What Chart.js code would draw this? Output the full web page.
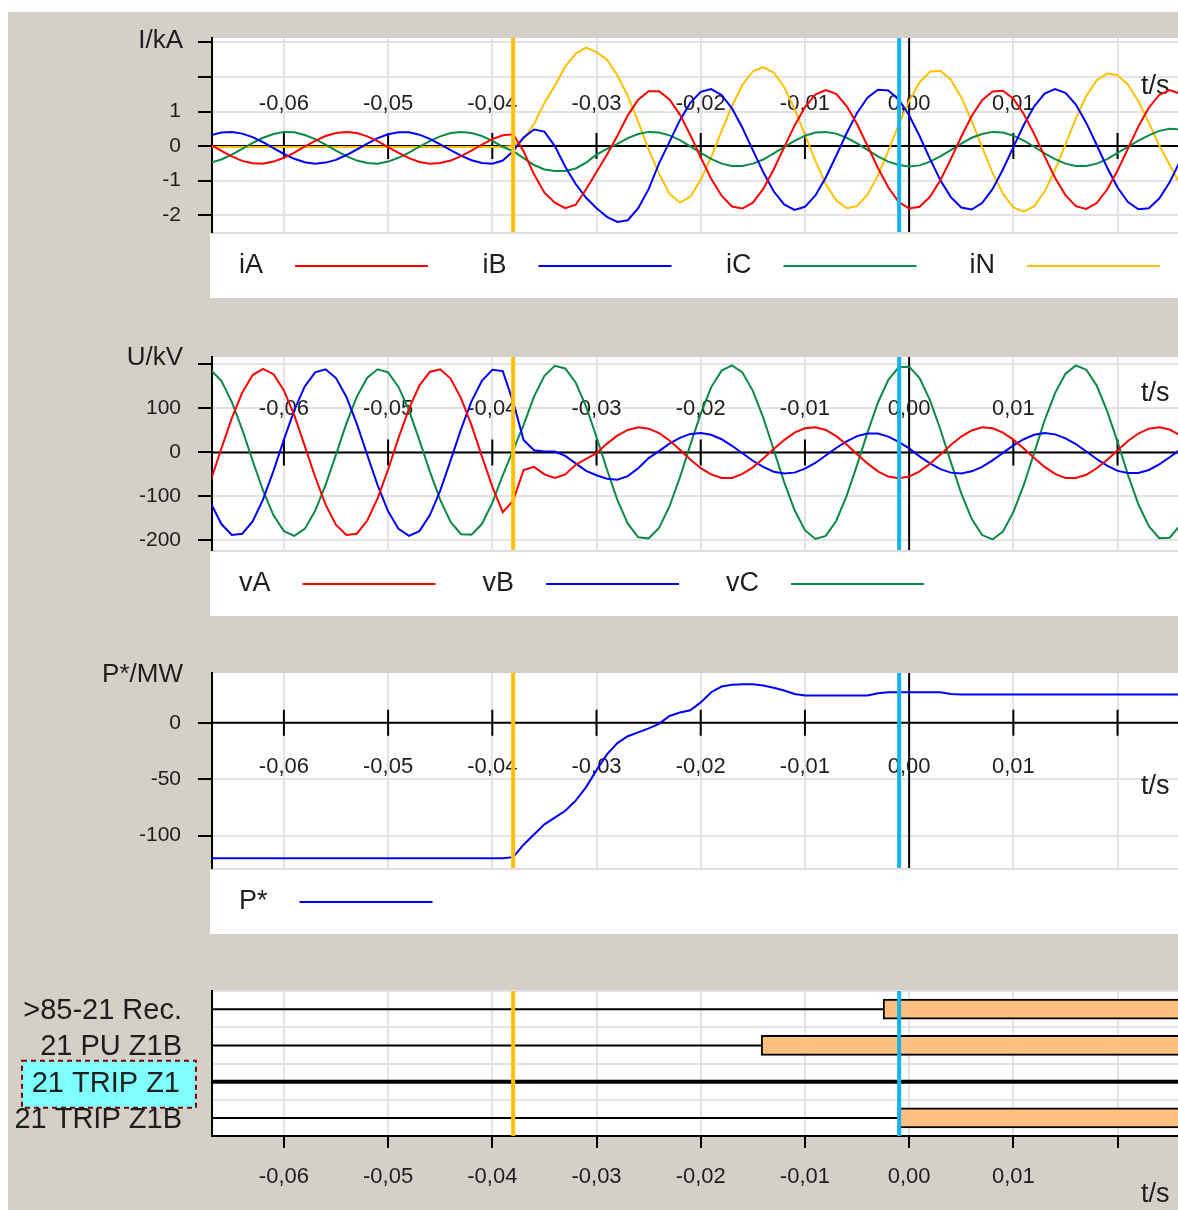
<!DOCTYPE html>
<html lang="en">
<head>
<meta charset="UTF-8">
<title>Fault record</title>
<style>
  body { margin: 0; background: #fff; overflow: hidden; }
  #frame { position: absolute; left: 8px; top: 12px; width: 1170px; height: 1198px; background: #d4d0c8; }
  canvas { position: absolute; left: 0; }
</style>
<script src="https://cdn.jsdelivr.net/npm/chart.js"></script>
</head>
<body>
<div id="frame"></div>
<canvas id="cur" width="1178" height="300" style="top:0px"></canvas>
<canvas id="volt" width="1178" height="320" style="top:300px"></canvas>
<canvas id="pow" width="1178" height="320" style="top:620px"></canvas>
<canvas id="bin" width="1178" height="270" style="top:940px"></canvas>
<script>
// sample times (s), one sample per ms
const t = [
  -0.067,-0.066,-0.065,-0.064,-0.063,-0.062,-0.061,-0.060,-0.059,-0.058,
  -0.057,-0.056,-0.055,-0.054,-0.053,-0.052,-0.051,-0.050,-0.049,-0.048,
  -0.047,-0.046,-0.045,-0.044,-0.043,-0.042,-0.041,-0.040,-0.039,-0.038,
  -0.037,-0.036,-0.035,-0.034,-0.033,-0.032,-0.031,-0.030,-0.029,-0.028,
  -0.027,-0.026,-0.025,-0.024,-0.023,-0.022,-0.021,-0.020,-0.019,-0.018,
  -0.017,-0.016,-0.015,-0.014,-0.013,-0.012,-0.011,-0.010,-0.009,-0.008,
  -0.007,-0.006,-0.005,-0.004,-0.003,-0.002,-0.001,0.000,0.001,0.002,
  0.003,0.004,0.005,0.006,0.007,0.008,0.009,0.010,0.011,0.012,
  0.013,0.014,0.015,0.016,0.017,0.018,0.019,0.020,0.021,0.022,
  0.023,0.024,0.025,0.026
];

// currents, kA
const iA = [
  0.03,-0.14,-0.30,-0.43,-0.50,-0.51,-0.45,-0.34,-0.19,-0.02,
  0.15,0.29,0.38,0.41,0.38,0.28,0.14,-0.03,-0.20,-0.35,
  -0.46,-0.51,-0.49,-0.42,-0.29,-0.13,0.04,0.20,0.31,0.34,
  -0.15,-0.82,-1.35,-1.64,-1.80,-1.70,-1.25,-0.75,-0.25,0.30,
  0.89,1.34,1.59,1.59,1.35,0.91,0.32,-0.33,-0.95,-1.44,
  -1.75,-1.81,-1.64,-1.24,-0.68,-0.04,0.59,1.13,1.49,1.62,
  1.51,1.16,0.64,0.01,-0.63,-1.20,-1.62,-1.81,-1.76,-1.47,
  -0.99,-0.38,0.27,0.87,1.33,1.58,1.60,1.37,0.93,0.35,
  -0.30,-0.92,-1.42,-1.74,-1.82,-1.65,-1.26,-0.71,-0.07,0.57,
  1.11,1.48,1.62,1.52
];
const iB = [
  0.31,0.39,0.41,0.36,0.26,0.11,-0.06,-0.23,-0.37,-0.47,
  -0.51,-0.48,-0.40,-0.26,-0.10,0.07,0.23,0.34,0.40,0.40,
  0.33,0.21,0.05,-0.12,-0.28,-0.41,-0.49,-0.51,-0.42,-0.15,
  0.25,0.48,0.42,0.00,-0.60,-1.10,-1.50,-1.80,-2.05,-2.20,
  -2.15,-1.80,-1.25,-0.50,0.12,0.75,1.25,1.57,1.65,1.48,
  1.09,0.53,-0.12,-0.76,-1.31,-1.69,-1.85,-1.76,-1.43,-0.91,
  -0.28,0.37,0.96,1.40,1.63,1.61,1.35,0.89,0.29,-0.37,
  -0.99,-1.48,-1.78,-1.84,-1.65,-1.25,-0.68,-0.03,0.61,1.15,
  1.52,1.65,1.54,1.20,0.67,0.03,-0.62,-1.20,-1.62,-1.83,
  -1.80,-1.52,-1.05,-0.43
];
const iC = [
  -0.48,-0.39,-0.25,-0.08,0.09,0.24,0.35,0.41,0.40,0.32,
  0.20,0.04,-0.13,-0.29,-0.42,-0.49,-0.51,-0.45,-0.34,-0.19,
  -0.02,0.14,0.28,0.38,0.41,0.38,0.29,0.15,-0.02,-0.15,
  -0.35,-0.55,-0.68,-0.72,-0.72,-0.65,-0.48,-0.25,-0.08,0.06,
  0.23,0.35,0.41,0.39,0.31,0.17,-0.01,-0.20,-0.37,-0.51,
  -0.58,-0.58,-0.51,-0.39,-0.21,-0.03,0.15,0.30,0.39,0.41,
  0.36,0.24,0.08,-0.11,-0.30,-0.45,-0.55,-0.59,-0.56,-0.45,
  -0.30,-0.12,0.07,0.24,0.35,0.41,0.39,0.30,0.16,-0.02,
  -0.21,-0.38,-0.51,-0.58,-0.58,-0.51,-0.38,-0.20,-0.02,0.16,
  0.31,0.44,0.50,0.48
];
const iN = [
  -0.03,-0.03,-0.03,-0.03,-0.03,-0.03,-0.03,-0.03,-0.03,-0.03,
  -0.03,-0.03,-0.03,-0.03,-0.03,-0.03,-0.03,-0.03,-0.03,-0.03,
  -0.03,-0.03,-0.03,-0.03,-0.03,-0.03,-0.03,-0.03,-0.03,0.00,
  0.21,0.64,1.25,1.75,2.30,2.68,2.85,2.72,2.50,2.05,
  1.45,0.70,-0.10,-0.80,-1.38,-1.64,-1.47,-0.98,-0.32,0.43,
  1.16,1.77,2.16,2.29,2.13,1.71,1.08,0.33,-0.43,-1.10,
  -1.57,-1.80,-1.74,-1.41,-0.85,-0.14,0.62,1.31,1.85,2.15,
  2.18,1.92,1.41,0.73,-0.03,-0.77,-1.38,-1.78,-1.90,-1.74,
  -1.32,-0.69,0.05,0.80,1.45,1.91,2.10,2.05,1.78,1.30,
  0.68,0.02,-0.55,-1.10
];

// voltages, kV
const vA = [
  -62,9,78,136,176,190,178,141,84,15,
  -56,-119,-165,-188,-185,-155,-104,-39,33,99,
  152,183,189,168,123,62,-9,-78,-136,-110,
  -40,-33,-50,-58,-50,-28,-15,-2,20,38,
  51,57,54,44,27,6,-16,-36,-50,-58,
  -58,-49,-34,-14,8,28,45,55,57,51,
  37,18,-4,-25,-43,-55,-59,-55,-43,-26,
  -5,17,36,50,57,55,45,29,9,-13,
  -33,-49,-58,-58,-51,-36,-17,5,26,43,
  54,57,52,39
];
const vB = [
  -116,-163,-188,-185,-157,-107,-42,29,96,150,
  182,189,169,126,65,-6,-75,-134,-174,-190,
  -179,-143,-87,-18,53,116,163,188,185,115,
  28,5,2,2,-8,-25,-42,-52,-60,-62,
  -54,-36,-13,3,20,33,42,44,40,30,
  15,-2,-19,-33,-44,-48,-46,-37,-24,-7,
  10,25,37,43,43,36,24,9,-9,-25,
  -38,-46,-48,-43,-33,-18,-1,16,30,40,
  44,41,32,19,2,-15,-30,-42,-47,-47,
  -40,-27,-11,6
];
const vC = [
  187,163,115,52,-19,-87,-143,-179,-190,-174,
  -133,-74,-5,66,127,170,189,182,149,96,
  28,-43,-108,-158,-186,-187,-163,-115,-52,5,
  62,127,174,197,191,159,104,35,-39,-108,
  -162,-193,-196,-172,-123,-57,17,88,148,186,
  198,182,140,79,6,-67,-131,-177,-197,-190,
  -156,-99,-29,45,113,165,194,195,169,119,
  52,-22,-93,-151,-188,-198,-180,-136,-74,-1,
  73,135,179,198,188,152,94,24,-51,-118,
  -168,-195,-194,-166
];

// active power, MW
const pStar = [
  -120,-120,-120,-120,-120,-120,-120,-120,-120,-120,
  -120,-120,-120,-120,-120,-120,-120,-120,-120,-120,
  -120,-120,-120,-120,-120,-120,-120,-120,-120,-119,
  -108,-99,-90,-84,-78,-69,-57,-42,-28,-18,
  -12,-8.5,-5,-1,6,9,11,18,27,32,
  33.5,34,34,33,31,28.5,25.5,24,24,24,
  24,24,24,24,26,27,27,27,27,27,
  27,25.5,25,25,25,25,25,25,25,25,
  25,25,25,25,25,25,25,25,25,25,
  25,25,25,25
];

// binary signals: pick-up time (s), null = never set
const signalNames = ['>85-21 Rec.', '21 PU Z1B', '21 TRIP Z1', '21 TRIP Z1B'];
const signalStart = [-0.0025, -0.0142, null, -0.00096];
const signalEnd = [0.05, 0.05, null, 0.05];
const selectedSignal = 2;

// cursors (s)
const cursorTimes = [-0.0380, -0.00096];
const cursorColors = ['#ffc000', '#12b4ec'];

const tMin = -0.0669, tMax = 0.0258;
const GRID = '#e3e3e3';
const TEXT = '#1e1e1e';
const FONT = '"Liberation Sans", Arial, sans-serif';

function fmtTime(v) {
  if (v > 0.015) return '';
  const s = Math.abs(v) < 1e-9 ? '0.00' : v.toFixed(2);
  return s.replace('.', ',');
}

function series(label, arr, color) {
  return {
    label: label,
    data: t.map((x, i) => ({x: x, y: arr[i]})),
    borderColor: color,
    borderWidth: 2,
    pointRadius: 0,
    tension: 0,
    fill: false
  };
}

function drawCursors(chart) {
  const {ctx, chartArea: a, scales: {x}} = chart;
  ctx.save();
  ctx.lineWidth = 4;
  cursorTimes.forEach((tc, i) => {
    const px = x.getPixelForValue(tc);
    ctx.strokeStyle = cursorColors[i];
    ctx.beginPath();
    ctx.moveTo(px, a.top);
    ctx.lineTo(px, a.bottom);
    ctx.stroke();
  });
  ctx.restore();
}

// analog panels: white plot, time axis through zero, legend below
const scopePlugin = {
  id: 'scope',
  beforeDraw(chart) {
    const {ctx, chartArea: a} = chart;
    ctx.save();
    ctx.fillStyle = '#fff';
    ctx.fillRect(a.left, a.top, a.right - a.left, a.bottom - a.top);
    ctx.fillRect(a.left - 2, a.bottom, a.right - a.left + 2, 66);
    ctx.strokeStyle = '#dedede';
    ctx.lineWidth = 2;
    ctx.beginPath();
    ctx.moveTo(a.left - 2, a.bottom + 1);
    ctx.lineTo(a.right, a.bottom + 1);
    ctx.stroke();
    ctx.restore();
  },
  beforeDatasetsDraw(chart, args, o) {
    const {ctx, chartArea: a, scales: {x, y}} = chart;
    const y0 = y.getPixelForValue(0);
    const x0 = x.getPixelForValue(0);
    ctx.save();
    ctx.strokeStyle = '#000';
    ctx.lineWidth = 2;
    ctx.beginPath();
    ctx.moveTo(a.left, y0);
    ctx.lineTo(a.right, y0);
    ctx.moveTo(x0, a.top);
    ctx.lineTo(x0, a.bottom);
    x.ticks.forEach(tk => {
      const px = x.getPixelForValue(tk.value);
      ctx.moveTo(px, y0 - 13);
      ctx.lineTo(px, y0 + 13);
    });
    ctx.stroke();
    ctx.fillStyle = TEXT;
    ctx.font = '22px ' + FONT;
    ctx.textAlign = 'center';
    ctx.textBaseline = 'middle';
    x.ticks.forEach(tk => {
      ctx.fillText(fmtTime(tk.value), x.getPixelForValue(tk.value), y0 + o.labelDy);
    });
    ctx.textAlign = 'left';
    ctx.font = '27px ' + FONT;
    ctx.fillText('t/s', 1141, y0 + o.unitDy);
    ctx.restore();
  },
  afterDatasetsDraw(chart) {
    drawCursors(chart);
  },
  afterDraw(chart, args, o) {
    const {ctx, chartArea: a} = chart;
    ctx.save();
    ctx.fillStyle = TEXT;
    ctx.textBaseline = 'middle';
    ctx.textAlign = 'right';
    ctx.font = '26px ' + FONT;
    ctx.fillText(o.title, 183, o.titleY);
    ctx.textAlign = 'left';
    ctx.font = '27px ' + FONT;
    const ly = a.bottom + 34;
    chart.data.datasets.forEach((ds, i) => {
      const lx = 239 + 243.5 * i;
      ctx.fillStyle = TEXT;
      ctx.fillText(ds.label, lx, ly);
      const x1 = lx + ctx.measureText(ds.label).width + 32;
      ctx.strokeStyle = ds.borderColor;
      ctx.lineWidth = 2;
      ctx.beginPath();
      ctx.moveTo(x1, ly);
      ctx.lineTo(x1 + 133, ly);
      ctx.stroke();
    });
    ctx.restore();
  }
};

function analog(id, datasets, o) {
  return new Chart(document.getElementById(id), {
    type: 'line',
    data: {datasets: datasets},
    options: {
      responsive: false,
      animation: false,
      events: [],
      layout: {padding: {top: o.padTop, bottom: o.padBottom, left: 0, right: 0}},
      plugins: {
        legend: {display: false},
        tooltip: {enabled: false},
        scope: {title: o.title, titleY: o.titleY, labelDy: o.labelDy, unitDy: o.unitDy}
      },
      scales: {
        x: {
          type: 'linear', min: tMin, max: tMax,
          ticks: {display: false, stepSize: 0.01, includeBounds: false},
          grid: {color: GRID, lineWidth: 2, drawTicks: false},
          border: {display: false},
          afterFit: s => { s.height = 0; }
        },
        y: {
          min: o.yMin, max: o.yMax,
          ticks: {stepSize: o.step, includeBounds: false, padding: 17, color: TEXT,
                  font: {family: FONT, size: 21}, callback: o.yLabel},
          grid: {color: GRID, lineWidth: 2, tickLength: 14, tickColor: '#000', tickWidth: 2},
          border: {color: '#000', width: 2},
          afterFit: s => { s.width = 212; }
        }
      }
    },
    plugins: [scopePlugin]
  });
}

analog('cur', [
  series('iA', iA, '#ff0000'),
  series('iB', iB, '#0000ff'),
  series('iC', iC, '#0a8a44'),
  series('iN', iN, '#ffc000')
], {padTop: 38, padBottom: 68, yMin: -2.49, yMax: 3.13, step: 1,
    yLabel: v => (v >= 2 ? '' : String(v)),
    title: 'I/kA', titleY: 41, labelDy: -42, unitDy: -59});

analog('volt', [
  series('vA', vA, '#ff0000'),
  series('vB', vB, '#0000ff'),
  series('vC', vC, '#0a8a44')
], {padTop: 57, padBottom: 70, yMin: -222, yMax: 217, step: 100,
    yLabel: v => (v >= 200 ? '' : String(v)),
    title: 'U/kV', titleY: 58, labelDy: -43, unitDy: -59});

analog('pow', [
  series('P*', pStar, '#0000ff')
], {padTop: 53, padBottom: 72, yMin: -128.6, yMax: 44, step: 50,
    yLabel: v => String(v),
    title: 'P*/MW', titleY: 55, labelDy: 44, unitDy: 64});

// binary signal panel
const signalPlugin = {
  id: 'signals',
  beforeDraw(chart) {
    const {ctx, chartArea: a} = chart;
    ctx.save();
    ctx.fillStyle = '#fff';
    ctx.fillRect(a.left, a.top, a.right - a.left, a.bottom - a.top);
    ctx.restore();
  },
  beforeDatasetsDraw(chart) {
    const {ctx, chartArea: a, scales: {y}} = chart;
    ctx.save();
    ctx.strokeStyle = '#000';
    signalNames.forEach((n, i) => {
      const py = y.getPixelForValue(i);
      ctx.lineWidth = i === selectedSignal ? 4 : 2;
      ctx.beginPath();
      ctx.moveTo(a.left, py);
      ctx.lineTo(a.right, py);
      ctx.stroke();
    });
    ctx.restore();
  },
  afterDatasetsDraw(chart) {
    drawCursors(chart);
  },
  afterDraw(chart) {
    const {ctx, scales: {y}} = chart;
    ctx.save();
    const ys = y.getPixelForValue(selectedSignal);
    ctx.fillStyle = '#80ffff';
    ctx.fillRect(22, ys - 21, 174, 47);
    ctx.strokeStyle = '#800000';
    ctx.lineWidth = 2;
    ctx.setLineDash([5, 4]);
    ctx.strokeRect(22, ys - 21, 174, 47);
    ctx.setLineDash([]);
    ctx.fillStyle = TEXT;
    ctx.font = '29px ' + FONT;
    ctx.textAlign = 'right';
    ctx.textBaseline = 'middle';
    signalNames.forEach((n, i) => {
      ctx.fillText(n, i === selectedSignal ? 180 : 182, y.getPixelForValue(i) + 2);
    });
    ctx.textAlign = 'left';
    ctx.font = '27px ' + FONT;
    ctx.fillText('t/s', 1141, 255);
    ctx.restore();
  }
};

new Chart(document.getElementById('bin'), {
  type: 'bar',
  data: {
    labels: signalNames,
    datasets: [{
      data: signalStart.map((s, i) => (s === null ? null : [s, signalEnd[i]])),
      backgroundColor: '#ffc080',
      borderColor: '#000',
      borderWidth: 2,
      borderSkipped: false,
      barThickness: 20
    }]
  },
  options: {
    indexAxis: 'y',
    responsive: false,
    animation: false,
    events: [],
    layout: {padding: {top: 51, bottom: 0, left: 0, right: 0}},
    plugins: {legend: {display: false}, tooltip: {enabled: false}},
    scales: {
      x: {
        type: 'linear', min: tMin, max: tMax, position: 'bottom',
        ticks: {stepSize: 0.01, includeBounds: false, padding: 16, color: TEXT,
                font: {family: FONT, size: 22}, maxRotation: 0, autoSkip: false,
                callback: v => fmtTime(v)},
        grid: {color: GRID, lineWidth: 2, tickLength: 12, tickColor: '#000', tickWidth: 2},
        border: {color: '#000', width: 2},
        afterFit: s => { s.height = 74; }
      },
      y: {
        type: 'category', offset: true,
        ticks: {display: false},
        grid: {color: GRID, lineWidth: 2, offset: true, drawTicks: false},
        border: {color: '#000', width: 2},
        afterFit: s => { s.width = 212; }
      }
    }
  },
  plugins: [signalPlugin]
});
</script>
</body>
</html>
